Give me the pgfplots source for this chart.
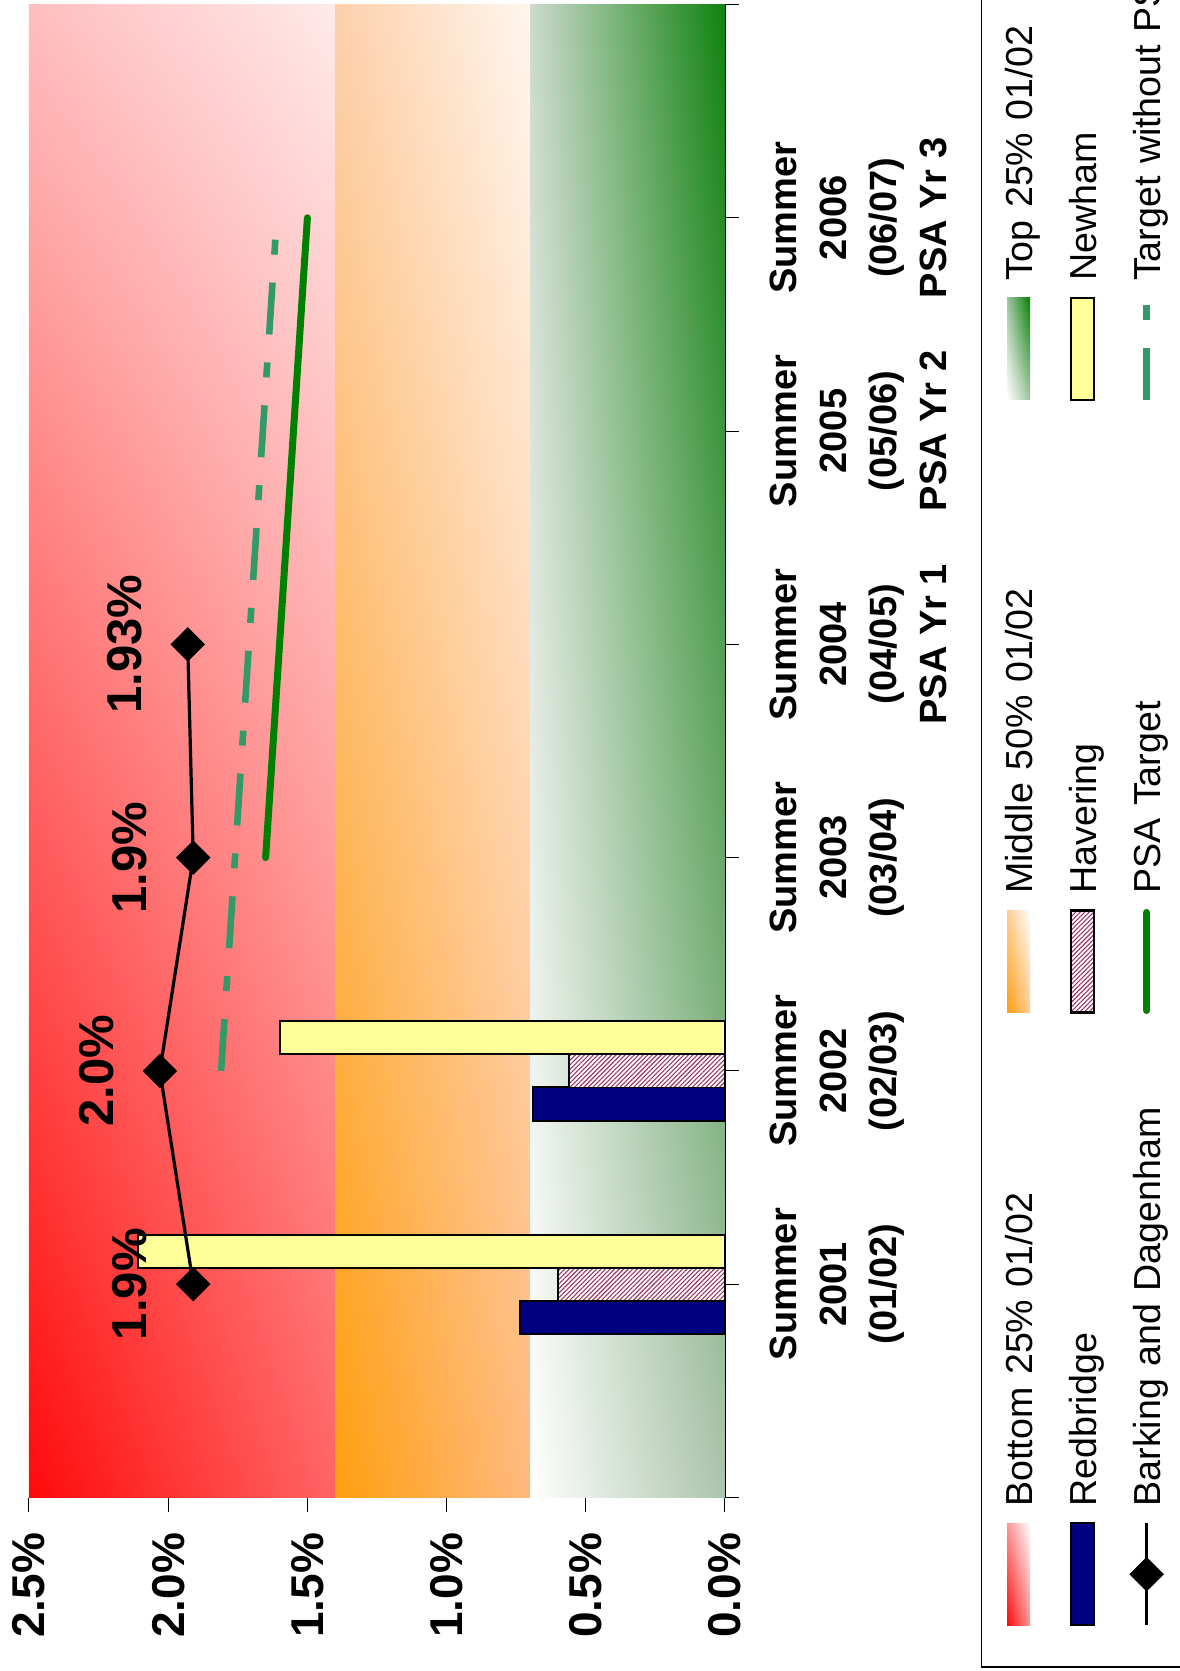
\documentclass[border=0pt]{standalone}
\usepackage{pgfplots}
\pgfplotsset{compat=1.18}
\usepackage{fontspec}
\setmainfont{Liberation Sans}
\usetikzlibrary{patterns.meta,shadings}
\definecolor{navyb}{RGB}{0,0,128}
\definecolor{lyellow}{RGB}{255,255,153}
\definecolor{psagreen}{RGB}{0,128,0}
\definecolor{seag}{RGB}{51,153,102}
\definecolor{plum}{RGB}{153,51,102}
% red band corners
\definecolor{rLL}{RGB}{255,10,10}
\definecolor{rLR}{RGB}{255,100,100}
\definecolor{rUL}{RGB}{255,190,190}
\definecolor{rUR}{RGB}{255,234,234}
% orange band corners
\definecolor{oLL}{RGB}{255,158,15}
\definecolor{oLR}{RGB}{255,185,125}
\definecolor{oUL}{RGB}{253,208,172}
\definecolor{oUR}{RGB}{255,246,238}
% green band corners
\definecolor{gLL}{RGB}{255,255,255}
\definecolor{gLR}{RGB}{172,196,172}
\definecolor{gUL}{RGB}{205,218,205}
\definecolor{gUR}{RGB}{15,130,15}
% legend swatch mids
\definecolor{rMid}{RGB}{255,150,150}
\definecolor{oMid}{RGB}{255,205,150}
\definecolor{gMid}{RGB}{160,195,160}
\begin{document}
\begin{tikzpicture}
\useasboundingbox (0,0) rectangle (589.5pt,835.5pt);
\begin{axis}[
  at={(14.5pt,86.75pt)}, anchor=south west,
  scale only axis, width=348pt, height=746.5pt,
  xmin=0, xmax=2.5, ymin=0, ymax=7,
  x dir=reverse,
  axis x line=bottom, axis y line=right,
  axis line style={-, black, line width=0.7pt},
  xtick={0,0.5,1,1.5,2,2.5},
  xticklabels={0.0\%,0.5\%,1.0\%,1.5\%,2.0\%,2.5\%},
  ytick={0,1,2,3,4,5,6,7},
  yticklabels={{},{Summer\\2001\\(01/02)},{Summer\\2002\\(02/03)},{Summer\\2003\\(03/04)},{Summer\\2004\\(04/05)\\PSA Yr 1},{Summer\\2005\\(05/06)\\PSA Yr 2},{Summer\\2006\\(06/07)\\PSA Yr 3},{}},
  tick align=outside, major tick length=7pt,
  tick style={black, line width=0.5pt},
  xticklabel style={rotate=90, anchor=east, inner sep=0pt, font=\bfseries\fontsize{23}{27}\selectfont},
  yticklabel style={rotate=90, anchor=north, align=center, inner sep=0pt, font=\bfseries\fontsize{19}{25}\selectfont},
  xticklabel shift=10.5pt, yticklabel shift=15.5pt,
  legend columns=3,
  legend cell align=left,
  legend style={at={(1.3678,-0.1142)}, anchor=south west, draw=black, line width=0.75pt,
    inner xsep=11.75pt, inner ysep=80pt, row sep=66pt,
    font=\fontsize{18.8}{22}\selectfont,
    nodes={rotate=90, inner sep=0pt, text width=240pt, text height=13.5pt, text depth=0pt, align=left},
    /tikz/every odd column/.style={column sep=0pt},
    /tikz/every even column/.style={column sep=18.5pt}},
]
% background bands
\addplot[forget plot, draw=none, shading=bilinear interpolation,
  lower left=rLL, lower right=rLR, upper left=rUL, upper right=rUR]
  coordinates {(1.4,0) (2.5,0) (2.5,7) (1.4,7) (1.4,0)};
\addplot[forget plot, draw=none, shading=bilinear interpolation,
  lower left=oLL, lower right=oLR, upper left=oUL, upper right=oUR]
  coordinates {(0.7,0) (1.4,0) (1.4,7) (0.7,7) (0.7,0)};
\addplot[forget plot, draw=none, shading=bilinear interpolation,
  lower left=gLL, lower right=gLR, upper left=gUL, upper right=gUR]
  coordinates {(0,0) (0.7,0) (0.7,7) (0,7) (0,0)};
% bars
\addplot[forget plot, xbar, bar width=0.155, bar shift=-0.155, fill=navyb, draw=black, line width=1pt]
  coordinates {(0.735,1) (0.69,2)};
\addplot[forget plot, xbar, bar width=0.155, bar shift=0, fill=white, draw=black, line width=0.8pt,
  postaction={pattern={Lines[angle=45,distance=1.6pt,line width=0.55pt]}, pattern color=plum}]
  coordinates {(0.60,1) (0.56,2)};
\addplot[forget plot, xbar, bar width=0.155, bar shift=0.155, fill=lyellow, draw=black, line width=1pt]
  coordinates {(2.11,1) (1.60,2)};
% lines
\addplot[forget plot, black, line width=1.6pt, mark=square*, mark size=5.3pt, mark options={rotate=45, solid, fill=black},
  nodes near coords, point meta=explicit symbolic,
  every node near coord/.append style={rotate=90, anchor=south, inner sep=0pt, outer sep=23pt, black, font=\bfseries\fontsize{24.5}{29}\selectfont}]
  coordinates {(1.91,1) [1.9\%] (2.03,2) [2.0\%] (1.91,3) [1.9\%] (1.93,4) [1.93\%]};
\addplot[forget plot, psagreen, line width=3.5pt, line cap=round]
  coordinates {(1.65,3) (1.60,4) (1.55,5) (1.50,6)};
\addplot[forget plot, seag, line width=3.3pt, dash pattern=on 26pt off 14pt on 7.5pt off 14pt]
  coordinates {(1.81,2) (1.76,3) (1.71,4) (1.66,5) (1.61,6)};
% legend (canvas rows: top row first)
\addlegendimage{legend image code/.code={\path[overlay, draw=none, shading=bilinear interpolation, lower left=white, lower right=gMid, upper left=gMid, upper right=psagreen] (1pt,-59pt) rectangle (12.5pt,-8pt);}}
\addlegendentry{Top 25\% 01/02}
\addlegendimage{legend image code/.code={\path[overlay, fill=lyellow, draw=black, line width=1.2pt] (1pt,-59pt) rectangle (12.5pt,-8pt);}}
\addlegendentry{Newham}
\addlegendimage{legend image code/.code={\draw[overlay, seag, line width=3.3pt, dash pattern=on 26pt off 14pt on 7.5pt off 14pt] (6.75pt,-59pt) -- (6.75pt,-8pt);}}
\addlegendentry{Target without PSA}
\addlegendimage{legend image code/.code={\path[overlay, draw=none, shading=bilinear interpolation, lower left=oLL, lower right=oMid, upper left=oMid, upper right=white] (1pt,-59pt) rectangle (12.5pt,-8pt);}}
\addlegendentry{Middle 50\% 01/02}
\addlegendimage{legend image code/.code={\path[overlay, fill=white, draw=black, line width=1.2pt, postaction={pattern={Lines[angle=45,distance=1.6pt,line width=0.55pt]}, pattern color=plum}] (1pt,-59pt) rectangle (12.5pt,-8pt);}}
\addlegendentry{Havering}
\addlegendimage{legend image code/.code={\draw[overlay, psagreen, line width=3.5pt, line cap=round] (6.75pt,-58pt) -- (6.75pt,-9pt);}}
\addlegendentry{PSA Target}
\addlegendimage{legend image code/.code={\path[overlay, draw=none, shading=bilinear interpolation, lower left=rLL, lower right=rMid, upper left=rMid, upper right=white] (1pt,-59pt) rectangle (12.5pt,-8pt);}}
\addlegendentry{Bottom 25\% 01/02}
\addlegendimage{legend image code/.code={\path[overlay, fill=navyb, draw=black, line width=1.2pt] (1pt,-59pt) rectangle (12.5pt,-8pt);}}
\addlegendentry{Redbridge}
\addlegendimage{legend image code/.code={\draw[overlay, black, line width=1.6pt, mark=square*, mark size=5.3pt, mark options={rotate=45, fill=black}, mark repeat=2, mark phase=2] plot coordinates {(6.75pt,-59pt) (6.75pt,-33.5pt) (6.75pt,-8pt)};}}
\addlegendentry{Barking and Dagenham}
\end{axis}
\end{tikzpicture}
\end{document}
